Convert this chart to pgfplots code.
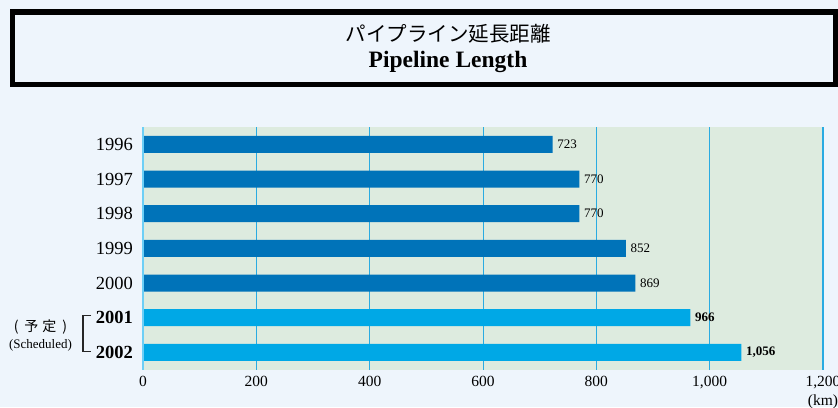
\documentclass[border=0pt]{standalone}
\usepackage{pgfplots}
\pgfplotsset{compat=1.18}
\usepackage{pgfplotstable}
\usepackage{fontspec}
\setmainfont{Liberation Serif}
\newfontfamily\cjk{Noto Sans CJK JP}
\definecolor{pagebg}{HTML}{EEF5FC}
\definecolor{plotbg}{HTML}{DDEBDF}
\definecolor{bardark}{HTML}{0073B9}
\definecolor{barlight}{HTML}{00A8E6}
\definecolor{gridc}{HTML}{29ABE2}
\definecolor{axisc}{HTML}{6DCFF6}
\pgfplotstableread{
v i lab
723 0 723
770 1 770
770 2 770
852 3 852
869 4 869
}\actual
\pgfplotstableread{
v i lab
966 5 966
1056 6 1,056
}\planned
\begin{document}
\begin{tikzpicture}[x=1pt,y=1pt]
\useasboundingbox (0,0) rectangle (838,407);
\clip (0,0) rectangle (838,407);
\begin{pgfinterruptboundingbox}
\fill[pagebg] (0,0) rectangle (838,407);
\draw[line width=5.5pt] (12.7,395.2) rectangle (835.3,322.3);
\node[anchor=base, inner sep=0pt] at (448,365) {\cjk\fontsize{20.5}{24}\selectfont パイプライン延長距離};
\node[anchor=base, inner sep=0pt] at (448,339) {\fontsize{23.5}{27}\selectfont\bfseries Pipeline Length};
\begin{axis}[
  at={(143pt,37.3pt)}, anchor=south west,
  scale only axis, width=680pt, height=242.7pt,
  xmin=0, xmax=1200, ymin=-0.5, ymax=6.5, y dir=reverse,
  axis background/.style={fill=plotbg},
  xtick={0,200,...,1200},
  ytick={0,...,6},
  yticklabels={1996,1997,1998,1999,2000,\textbf{2001},\textbf{2002}},
  major tick length=0pt,
  xmajorgrids, grid style={gridc, line width=0.9pt},
  axis line style={draw=none},
  /pgf/number format/assume math mode=true,
  /pgf/number format/1000 sep={,},
  xticklabel style={font=\fontsize{15.5}{18}\selectfont, inner sep=0pt, anchor=north, yshift=-6pt},
  yticklabel style={font=\fontsize{18.5}{22}\selectfont, inner sep=0pt, anchor=east, xshift=-10pt},
  xbar, bar width=17pt, bar shift=0pt,
  clip=false,
  nodes near coords, point meta=explicit symbolic,
  nodes near coords style={anchor=west, inner sep=0pt, xshift=4.5pt, font=\fontsize{13}{15}\selectfont},
]
\addplot[fill=bardark, draw=none] table[x=v, y=i, meta=lab]{\actual};
\addplot[fill=barlight, draw=none, every node near coord/.append style={font=\fontsize{13}{15}\selectfont\bfseries}] table[x=v, y=i, meta=lab]{\planned};
\draw[gridc, line width=2pt] (axis cs:1200,-0.5) -- (axis cs:1200,6.5);
\draw[axisc, line width=2pt] (axis cs:0,-0.5) -- (axis cs:0,6.5);
\end{axis}
\node[anchor=center, inner sep=0pt] at (40.5,80.5) {\cjk\fontsize{14}{16}\selectfont (\hspace{6pt}予\hspace{4pt}定\hspace{6pt})};
\node[anchor=base, inner sep=0pt] at (40.5,58) {\fontsize{13}{15}\selectfont (Scheduled)};
\draw[line width=1.2pt, black!85] (91,91.5) -- (83,91.5) -- (83,55.5) -- (91,55.5);
\node[anchor=base, inner sep=0pt] at (823,1.5) {\fontsize{15.5}{18}\selectfont (km)};
\end{pgfinterruptboundingbox}
\end{tikzpicture}
\end{document}
